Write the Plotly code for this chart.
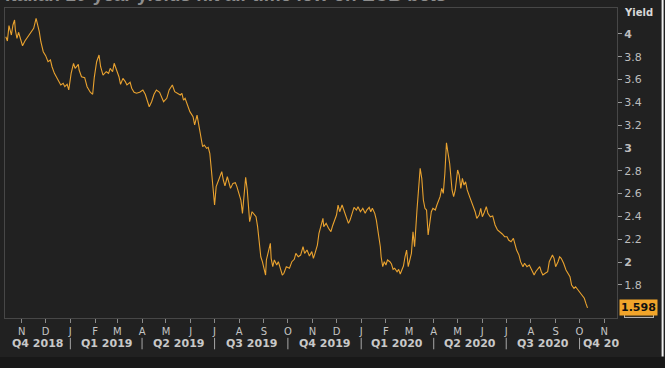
import plotly.graph_objects as go
import pandas as pd

dates = [
"2018-10-12","2018-10-14","2018-10-16","2018-10-19","2018-10-21","2018-10-23","2018-10-24","2018-10-26","2018-10-28","2018-10-31",
"2018-11-02","2018-11-05","2018-11-09","2018-11-14","2018-11-16","2018-11-19","2018-11-21","2018-11-23","2018-11-25","2018-11-28",
"2018-12-01","2018-12-04","2018-12-07","2018-12-09","2018-12-12","2018-12-15","2018-12-18","2018-12-20","2018-12-23","2018-12-25",
"2018-12-28","2018-12-30","2019-01-02","2019-01-05","2019-01-07","2019-01-11","2019-01-12","2019-01-15","2019-01-19","2019-01-22",
"2019-01-26","2019-01-29","2019-01-31","2019-02-03","2019-02-06","2019-02-08","2019-02-11","2019-02-15","2019-02-18","2019-02-20",
"2019-02-23","2019-02-25","2019-02-28","2019-03-03","2019-03-05","2019-03-08","2019-03-11","2019-03-13","2019-03-17","2019-03-19",
"2019-03-22","2019-03-25","2019-03-29","2019-04-02","2019-04-05","2019-04-08","2019-04-10","2019-04-13","2019-04-16","2019-04-19",
"2019-04-23","2019-04-28","2019-05-02","2019-05-05","2019-05-09","2019-05-12","2019-05-15","2019-05-19","2019-05-21","2019-05-23",
"2019-05-25","2019-05-28","2019-05-31","2019-06-04","2019-06-06","2019-06-09","2019-06-11","2019-06-14","2019-06-16","2019-06-18",
"2019-06-21","2019-06-23","2019-06-25","2019-06-27","2019-06-29","2019-07-01","2019-07-03","2019-07-06","2019-07-08","2019-07-10",
"2019-07-12","2019-07-14","2019-07-17","2019-07-19","2019-07-21","2019-07-24","2019-07-27","2019-07-29","2019-08-01","2019-08-03",
"2019-08-05","2019-08-07","2019-08-09","2019-08-11","2019-08-13","2019-08-14","2019-08-17","2019-08-19","2019-08-22","2019-08-24",
"2019-08-26","2019-08-28","2019-08-30","2019-09-01","2019-09-03","2019-09-04","2019-09-06","2019-09-09","2019-09-10","2019-09-12",
"2019-09-14","2019-09-17","2019-09-19","2019-09-21","2019-09-24","2019-09-26","2019-09-29","2019-10-03","2019-10-06","2019-10-09",
"2019-10-11","2019-10-14","2019-10-17","2019-10-20","2019-10-22","2019-10-25","2019-10-28","2019-10-31","2019-11-02","2019-11-04",
"2019-11-07","2019-11-09","2019-11-12","2019-11-14","2019-11-15","2019-11-18","2019-11-21","2019-11-24","2019-11-26","2019-11-29",
"2019-12-01","2019-12-03","2019-12-05","2019-12-08","2019-12-10","2019-12-12","2019-12-14","2019-12-16","2019-12-18","2019-12-21",
"2019-12-23","2019-12-26","2019-12-28","2019-12-31","2020-01-03","2020-01-06","2020-01-08","2020-01-11","2020-01-13","2020-01-15",
"2020-01-18","2020-01-20","2020-01-22","2020-01-25","2020-01-26","2020-01-28","2020-01-30","2020-02-01","2020-02-03","2020-02-06",
"2020-02-08","2020-02-10","2020-02-12","2020-02-15","2020-02-17","2020-02-19","2020-02-21","2020-02-23","2020-02-25","2020-02-27",
"2020-02-29","2020-03-02","2020-03-04","2020-03-06","2020-03-08","2020-03-11","2020-03-13","2020-03-15","2020-03-17","2020-03-19",
"2020-03-21","2020-03-23","2020-03-25","2020-03-27","2020-03-29","2020-03-31","2020-04-03","2020-04-05","2020-04-07","2020-04-09",
"2020-04-11","2020-04-13","2020-04-15","2020-04-17","2020-04-19","2020-04-21","2020-04-24","2020-04-26","2020-04-28","2020-05-01",
"2020-05-03","2020-05-05","2020-05-07","2020-05-09","2020-05-11","2020-05-13","2020-05-16","2020-05-20","2020-05-23","2020-05-25",
"2020-05-28","2020-05-30","2020-06-01","2020-06-03","2020-06-06","2020-06-08","2020-06-11","2020-06-14","2020-06-17","2020-06-20",
"2020-06-23","2020-06-26","2020-06-29","2020-07-02","2020-07-04","2020-07-07","2020-07-10","2020-07-12","2020-07-14","2020-07-17",
"2020-07-19","2020-07-22","2020-07-24","2020-07-27","2020-07-30","2020-08-02","2020-08-05","2020-08-07","2020-08-10","2020-08-12",
"2020-08-14","2020-08-16","2020-08-19","2020-08-22","2020-08-24","2020-08-26","2020-08-28","2020-08-30","2020-09-01","2020-09-04",
"2020-09-06","2020-09-08","2020-09-11","2020-09-14","2020-09-17","2020-09-19","2020-09-21","2020-09-24","2020-09-26","2020-09-29",
"2020-10-02","2020-10-05","2020-10-07","2020-10-09","2020-10-11",
]

yields = [
3.976,3.939,4.073,3.991,4.079,4.123,4.035,3.962,4.015,3.932,
3.897,3.939,3.976,4.026,4.050,4.138,4.079,4.020,3.932,3.845,
3.810,3.757,3.772,3.713,3.655,3.617,3.582,3.553,3.567,3.538,
3.559,3.509,3.655,3.743,3.699,3.734,3.684,3.625,3.617,3.538,
3.489,3.471,3.617,3.757,3.816,3.713,3.640,3.669,3.655,3.699,
3.669,3.743,3.684,3.625,3.559,3.611,3.582,3.553,3.576,3.524,
3.489,3.480,3.489,3.509,3.471,3.406,3.362,3.406,3.471,3.509,
3.489,3.406,3.436,3.509,3.553,3.494,3.480,3.465,3.480,3.421,
3.436,3.377,3.319,3.275,3.202,3.289,3.202,3.085,3.011,3.026,
2.997,3.006,2.954,2.807,2.632,2.500,2.661,2.719,2.763,2.792,
2.719,2.667,2.748,2.704,2.646,2.690,2.696,2.661,2.602,2.544,
2.427,2.602,2.743,2.632,2.485,2.354,2.441,2.421,2.397,2.310,
2.178,2.046,2.003,1.945,1.886,2.018,2.076,2.164,2.032,1.959,
2.018,1.974,2.003,1.945,1.886,1.901,1.959,1.945,2.003,2.024,
2.076,2.046,2.061,2.134,2.076,2.105,2.053,2.091,2.032,2.076,
2.149,2.252,2.339,2.383,2.310,2.339,2.296,2.266,2.316,2.368,
2.412,2.500,2.441,2.500,2.456,2.412,2.368,2.339,2.368,2.441,
2.480,2.456,2.485,2.441,2.471,2.427,2.456,2.480,2.441,2.471,
2.427,2.368,2.281,2.134,2.046,1.959,2.003,1.974,2.018,2.003,
1.982,1.936,1.945,1.915,1.936,1.895,1.930,1.965,2.046,2.105,
1.959,2.018,2.076,2.266,2.134,2.456,2.661,2.822,2.734,2.544,
2.471,2.456,2.237,2.368,2.441,2.471,2.456,2.500,2.529,2.573,
2.646,2.602,2.778,3.046,2.954,2.866,2.632,2.573,2.632,2.807,
2.763,2.646,2.734,2.675,2.704,2.632,2.573,2.500,2.441,2.383,
2.412,2.471,2.397,2.427,2.485,2.427,2.397,2.404,2.325,2.281,
2.266,2.246,2.222,2.222,2.193,2.178,2.208,2.149,2.105,2.061,
2.003,1.959,1.989,1.959,1.974,1.930,1.886,1.915,1.945,1.959,
1.915,1.886,1.901,1.915,2.003,2.032,2.061,2.032,1.959,2.003,
2.046,2.032,1.989,1.930,1.886,1.871,1.798,1.769,1.783,1.754,
1.725,1.696,1.682,1.637,1.598,
]

month_ticks = pd.date_range("2018-11-01", "2020-11-01", freq="MS")
month_letters = ["N","D","J","F","M","A","M","J","J","A","S","O",
                 "N","D","J","F","M","A","M","J","J","A","S","O","N"]

quarter_labels = ["Q4 2018","Q1 2019","Q2 2019","Q3 2019","Q4 2019",
                  "Q1 2020","Q2 2020","Q3 2020","Q4 20"]
quarter_starts = pd.to_datetime(["2018-10-01","2019-01-01","2019-04-01","2019-07-01","2019-10-01",
                                 "2020-01-01","2020-04-01","2020-07-01","2020-10-01"])

y_ticks = [1.8, 2.0, 2.2, 2.4, 2.6, 2.8, 3.0, 3.2, 3.4, 3.6, 3.8, 4.0]
y_ticktext = ["1.8", "<b>2</b>", "2.2", "2.4", "2.6", "2.8", "<b>3</b>", "3.2", "3.4", "3.6", "3.8", "<b>4</b>"]

x_range = ["2018-10-11", "2020-11-17"]
y_range = [1.509, 4.228]

BG = "#212121"
FONT = "DejaVu Sans"

fig = go.Figure()
fig.add_trace(go.Scatter(x=dates, y=yields, mode="lines",
                         line=dict(color="#e9a22f", width=1.1), hoverinfo="skip"))

fig.update_layout(
    width=665, height=368,
    margin=dict(l=5, r=48, t=8, b=50),
    paper_bgcolor=BG, plot_bgcolor=BG,
    showlegend=False,
    font=dict(family=FONT, color="#c4c4c4", size=10),
    xaxis=dict(type="date", range=x_range, tickvals=month_ticks, ticktext=month_letters,
               ticks="outside", ticklen=4, tickcolor="#8a8a8a", tickwidth=1,
               tickfont=dict(family=FONT, size=10, color="#c4c4c4"),
               showgrid=False, zeroline=False, showline=True, linecolor="#474747",
               linewidth=1, mirror=True),
    yaxis=dict(side="right", range=y_range, tickvals=y_ticks, ticktext=y_ticktext,
               ticks="outside", ticklen=4, tickcolor="#9a9a9a", tickwidth=1,
               tickfont=dict(family=FONT, size=11, color="#bdbdbd"),
               showgrid=False, zeroline=False, showline=True, linecolor="#474747",
               linewidth=1, mirror=True),
)

x0 = pd.Timestamp(x_range[0])
ann = []
shapes = []
for i, (lab, qs) in enumerate(zip(quarter_labels, quarter_starts)):
    qe = qs + pd.offsets.QuarterBegin(startingMonth=1)
    if i == len(quarter_labels) - 1:
        ann.append(dict(x=qs, y=-0.081, xref="x", yref="paper", text="<b>%s</b>" % lab,
                        showarrow=False, xanchor="left", yanchor="middle", xshift=1,
                        font=dict(family=FONT, size=11, color="#c8c8c8")))
    else:
        a = max(qs, x0)
        c = a + (qe - a) / 2
        ann.append(dict(x=c, y=-0.081, xref="x", yref="paper", text="<b>%s</b>" % lab,
                        showarrow=False, xanchor="center", yanchor="middle",
                        font=dict(family=FONT, size=11, color="#c8c8c8")))
    if qs > x0:
        shapes.append(dict(type="line", xref="x", yref="paper", x0=qs, x1=qs,
                           y0=-0.064, y1=-0.101, line=dict(color="#a8a8a8", width=1)))

# frame decorations
shapes.append(dict(type="rect", xref="paper", yref="paper", x0=-0.01, x1=1.08,
                   y0=-0.126, y1=-0.17, fillcolor="#181818", line=dict(width=0), layer="below"))
shapes.append(dict(type="line", xref="paper", yref="paper", x0=1.0745, x1=1.0745,
                   y0=1.03, y1=-0.124, line=dict(color="#f2f2f2", width=2)))

ann.append(dict(x=1.008, y=0.984, xref="paper", yref="paper", text="<b>Yield</b>",
                showarrow=False, xanchor="left", yanchor="middle",
                font=dict(family=FONT, size=10, color="#d8d8d8")))
# secondary (mostly hidden) price box beneath the last-value tag
ann.append(dict(x=1.0115, y=1.566, xref="paper", yref="y", text="<b>1.630</b>",
                showarrow=False, xanchor="left", yanchor="middle",
                bgcolor="#3a3020", bordercolor="#b0b0b0", borderwidth=1, borderpad=0,
                font=dict(family=FONT, size=9, color="#c9c9c9")))
ann.append(dict(x=1.0035, y=yields[-1], xref="paper", yref="y", text="<b>%.3f</b>" % yields[-1],
                showarrow=False, xanchor="left", yanchor="middle",
                bgcolor="#f2a52a", borderpad=1,
                font=dict(family=FONT, size=11, color="#111111")))
ann.append(dict(x=-0.003, y=1.012, xref="paper", yref="paper",
                text="<b>Italian 10-year yields hit all-time low on ECB bets</b>",
                showarrow=False, xanchor="left", yanchor="bottom", yshift=-3,
                font=dict(family="Liberation Sans", size=19, color="#8d8d8d")))

fig.update_layout(annotations=ann, shapes=shapes)
fig.write_html("out.html")
